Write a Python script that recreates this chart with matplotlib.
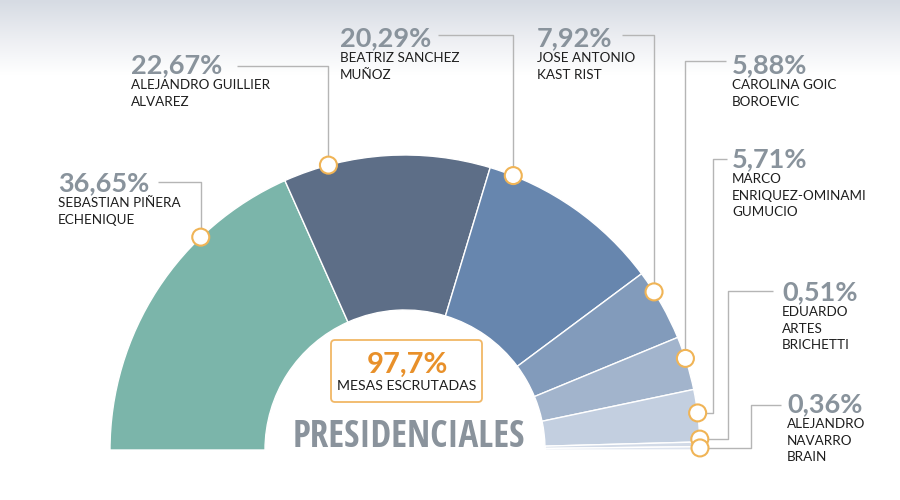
import numpy as np
import matplotlib
matplotlib.use("Agg")
import matplotlib.pyplot as plt
from matplotlib import font_manager as fm
from matplotlib.patches import Circle, FancyBboxPatch
from matplotlib.colors import LinearSegmentedColormap

# ---------------- data ----------------
candidates = [
    "SEBASTIAN PIÑERA\nECHENIQUE",
    "ALEJANDRO GUILLIER\nALVAREZ",
    "BEATRIZ SANCHEZ\nMUÑOZ",
    "JOSE ANTONIO\nKAST RIST",
    "CAROLINA GOIC\nBOROEVIC",
    "MARCO\nENRIQUEZ-OMINAMI\nGUMUCIO",
    "EDUARDO\nARTES\nBRICHETTI",
    "ALEJANDRO\nNAVARRO\nBRAIN",
]
values = [36.65, 22.67, 20.29, 7.92, 5.88, 5.71, 0.51, 0.36]
pct_labels = ["36,65%", "22,67%", "20,29%", "7,92%", "5,88%", "5,71%", "0,51%", "0,36%"]
colors = ["#7bb5aa", "#5d6e87", "#6786ae", "#829bbb", "#a2b4cc",
          "#c3cfe0", "#d2dae7", "#dde3ee"]
scrutinized = "97,7%"
scrutinized_label = "MESAS ESCRUTADAS"
title = "PRESIDENCIALES"

# ---------------- layout (pixel space, y from top) ----------------
W, H = 900, 500
cx, cy = 405, 450          # centre of the half donut (pixels from top)
R_out, ring = 295, 155
# dot position along each wedge (fraction from its starting edge)
dot_frac = [0.70, 0.22, 0.13, 0.30, 0.41, 0.45, -0.60, 0.38]
# label anchors: (x, baseline y of percentage)
label_pos = [(58, 191), (131, 73), (340, 46), (537, 46),
             (732, 73), (732, 167), (782, 300), (787, 412)]
# leader geometry: (start x, y of horizontal run, elbow x or None)
leaders = [(158, 182, None), (237, 66, None), (438, 35, None), (622, 35, None),
           (726, 61, None), (727, 159, 713), (773, 291, 728), (781, 405, 751)]


def Y(y):
    return H - y


def pick_family(cands, weight="bold"):
    for c in cands:
        try:
            fm.findfont(fm.FontProperties(family=c, weight=weight),
                        fallback_to_default=False)
            return c
        except Exception:
            pass
    return "DejaVu Sans"


title_family = pick_family(["Open Sans Condensed", "Roboto Condensed",
                            "Liberation Sans Narrow", "DejaVu Sans Condensed",
                            "Lato"])

fig = plt.figure(figsize=(9, 5), dpi=100)
ax = fig.add_axes([0, 0, 1, 1])
ax.set_xlim(0, W)
ax.set_ylim(0, H)
ax.axis("off")

# background gradient band at the top
grad = np.linspace(0, 1, 100).reshape(-1, 1)
cmap = LinearSegmentedColormap.from_list("bg", ["#d6dbe3", "#eceef2", "#ffffff"])
ax.imshow(grad, extent=[0, W, Y(75), Y(0)], aspect="auto", cmap=cmap,
          origin="upper", zorder=0)

# half donut via pie with a hidden lower half
total = sum(values)
wedges, _ = ax.pie(values + [total], colors=colors + ["none"],
                   startangle=180, counterclock=False,
                   center=(cx, Y(cy)), radius=R_out, frame=True,
                   wedgeprops=dict(width=ring, edgecolor="white", linewidth=1.0))
wedges[-1].set_visible(False)
ax.set_xlim(0, W)
ax.set_ylim(0, H)
ax.set_aspect("auto")
ax.axis("off")

pct_color = "#89939c"
name_color = "#1e1e1e"
line_color = "#b5b5b5"
dot_edge = "#f0b456"

for i, w in enumerate(wedges[:-1]):
    a_start = max(w.theta1, w.theta2)
    a_end = min(w.theta1, w.theta2)
    ang = np.deg2rad(a_start - dot_frac[i] * (a_start - a_end))
    dx = cx + R_out * np.cos(ang)
    dy = Y(cy) + R_out * np.sin(ang)

    sx, ly, ex = leaders[i]
    if ex is None:
        xs = [sx, dx, dx]
        ys = [Y(ly), Y(ly), dy]
    else:
        xs = [sx, ex, ex, dx]
        ys = [Y(ly), Y(ly), dy, dy]
    ax.plot(xs, ys, color=line_color, lw=1.0, zorder=3, solid_capstyle="butt")
    ax.add_patch(Circle((dx, dy), 8.5, facecolor="white", edgecolor=dot_edge,
                        lw=1.5, zorder=4))

    lx, lb = label_pos[i]
    ax.text(lx, Y(lb), pct_labels[i], fontsize=19.5, fontweight="bold",
            family=["Lato", "DejaVu Sans"], color=pct_color,
            ha="left", va="baseline", zorder=5)
    for k, line in enumerate(candidates[i].split("\n")):
        ax.text(lx, Y(lb + 16.3 * (k + 1)), line, fontsize=9.7,
                family=["Lato", "DejaVu Sans"], color=name_color,
                ha="left", va="baseline", zorder=5)

# centre box
box = FancyBboxPatch((331, Y(402)), 151, 62,
                     boxstyle="round,pad=0,rounding_size=4",
                     facecolor="white", edgecolor="#f1b766", lw=1.3, zorder=5)
ax.add_patch(box)
ax.text(407, Y(373), scrutinized, fontsize=21, fontweight="bold",
        family=["Lato", "DejaVu Sans"], color="#e8902a",
        ha="center", va="baseline", zorder=6)
ax.text(407, Y(390), scrutinized_label, fontsize=10.2,
        family=["Lato", "DejaVu Sans"], color=name_color,
        ha="center", va="baseline", zorder=6)

# title fitted to the reference width
t = ax.text(409, Y(447), title, fontsize=23, fontweight="bold",
            family=[title_family, "DejaVu Sans"], color="#8a939c",
            ha="center", va="baseline", zorder=6)
fig.canvas.draw()
bw = t.get_window_extent(renderer=fig.canvas.get_renderer()).width
t.set_fontsize(23 * 232.0 / bw)

fig.savefig("out.png", dpi=100, facecolor="white")
